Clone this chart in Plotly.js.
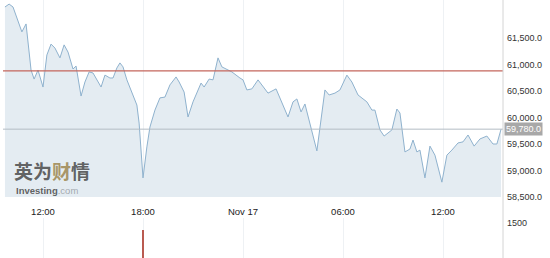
<!DOCTYPE html>
<html>
<head>
<meta charset="utf-8">
<script src="https://cdn.plot.ly/plotly-3.0.1.min.js"></script>
<style>
  html, body { margin: 0; padding: 0; background: #fff; }
  #chart { width: 550px; height: 258px; }
</style>
</head>
<body>
<div id="chart"></div>
<script>
// Intraday price, Nov 16 – Nov 17 2021
const times = [
  "2021-11-16 09:43","2021-11-16 09:58","2021-11-16 10:12","2021-11-16 10:30","2021-11-16 10:44",
  "2021-11-16 10:59","2021-11-16 11:17","2021-11-16 11:28","2021-11-16 11:42","2021-11-16 12:00",
  "2021-11-16 12:14","2021-11-16 12:29","2021-11-16 12:43","2021-11-16 13:01","2021-11-16 13:16",
  "2021-11-16 13:30","2021-11-16 13:48","2021-11-16 13:59","2021-11-16 14:17","2021-11-16 14:31",
  "2021-11-16 14:46","2021-11-16 15:00","2021-11-16 15:14","2021-11-16 15:29","2021-11-16 15:43",
  "2021-11-16 16:01","2021-11-16 16:12","2021-11-16 16:26","2021-11-16 16:37","2021-11-16 16:48",
  "2021-11-16 17:02","2021-11-16 17:20","2021-11-16 17:38","2021-11-16 17:46","2021-11-16 18:00",
  "2021-11-16 18:14","2021-11-16 18:25","2021-11-16 18:43","2021-11-16 19:01","2021-11-16 19:19",
  "2021-11-16 19:37","2021-11-16 19:59","2021-11-16 20:10","2021-11-16 20:28","2021-11-16 20:42",
  "2021-11-16 21:00","2021-11-16 21:29","2021-11-16 21:40","2021-11-16 21:58","2021-11-16 22:12",
  "2021-11-16 22:30","2021-11-16 22:44","2021-11-16 23:20","2021-11-16 23:49","2021-11-17 00:00",
  "2021-11-17 00:14","2021-11-17 00:32","2021-11-17 00:54","2021-11-17 01:30","2021-11-17 01:59",
  "2021-11-17 02:42","2021-11-17 03:00","2021-11-17 03:14","2021-11-17 03:29","2021-11-17 03:43",
  "2021-11-17 04:26","2021-11-17 04:55","2021-11-17 05:10","2021-11-17 05:31","2021-11-17 05:49",
  "2021-11-17 06:14","2021-11-17 06:32","2021-11-17 06:54","2021-11-17 07:26","2021-11-17 07:44",
  "2021-11-17 07:55","2021-11-17 08:13","2021-11-17 08:28","2021-11-17 08:56","2021-11-17 09:14",
  "2021-11-17 09:25","2021-11-17 09:43","2021-11-17 10:01","2021-11-17 10:12","2021-11-17 10:26",
  "2021-11-17 10:37","2021-11-17 10:55","2021-11-17 11:13","2021-11-17 11:31","2021-11-17 11:56",
  "2021-11-17 12:14","2021-11-17 12:32","2021-11-17 12:54","2021-11-17 13:12","2021-11-17 13:30",
  "2021-11-17 13:52","2021-11-17 14:13","2021-11-17 14:38","2021-11-17 15:00","2021-11-17 15:14",
  "2021-11-17 15:29"
];
const prices = [
  62085, 62140, 62085, 61840, 61615,
  61765, 60895, 60725, 60895, 60575,
  61180, 61385, 61310, 61125, 61370,
  61235, 60915, 60970, 60405, 60670,
  60860, 60840, 60710, 60575, 60800,
  60745, 60745, 60935, 61030, 60955,
  60710, 60480, 60235, 59895, 58860,
  59445, 59820, 60140, 60370, 60385,
  60615, 60765, 60670, 60480, 60010,
  60295, 60650, 60575, 60725, 60710,
  61125, 60955, 60860, 60745, 60710,
  60520, 60540, 60710, 60460, 60540,
  60010, 60295, 60350, 60105, 60255,
  59370, 60520, 60425, 60460, 60520,
  60800, 60670, 60425, 60295, 60140,
  60140, 59765, 59650, 59765, 60160,
  60085, 59350, 59405, 59575, 59350,
  59385, 58860, 59460, 59290, 58780,
  59290, 59385, 59520, 59540, 59670,
  59460, 59595, 59650, 59500, 59500,
  59780
];

// Volume panel
const volTimes = ["2021-11-16 18:00"];
const volumes = [1190];

// Reference levels
const prevClose = 60880;
const lastPrice = 59780;

// Axis ticks
const xRange = ["2021-11-16 09:36", "2021-11-17 15:36"];
const xTickVals = ["2021-11-16 12:00", "2021-11-16 18:00", "2021-11-17 00:00", "2021-11-17 06:00", "2021-11-17 12:00"];
const xTickText = ["12:00", "18:00", "Nov 17", "06:00", "12:00"];
const yTickVals = [58500, 59000, 59500, 60000, 60500, 61000, 61500];
const volTickVals = [1500];
const volTickText = ["1500"];

const FONT = "'Liberation Sans', Arial, sans-serif";

const traces = [
  {
    type: "scatter", mode: "lines",
    x: times, y: prices,
    line: { color: "#8fb2ce", width: 1 },
    fill: "tozeroy", fillcolor: "#e4ecf2",
    xaxis: "x", yaxis: "y",
    hoverinfo: "skip"
  },
  {
    type: "bar",
    x: volTimes, y: volumes,
    width: 420000,
    marker: { color: "#b8564c" },
    xaxis: "x2", yaxis: "y2",
    hoverinfo: "skip"
  }
];

const layout = {
  width: 550, height: 258,
  margin: { l: 3, r: 47, t: 0, b: 0, pad: 0 },
  paper_bgcolor: "#ffffff", plot_bgcolor: "rgba(0,0,0,0)",
  showlegend: false,
  font: { family: FONT, color: "#333", size: 9 },
  xaxis: {
    type: "date", range: xRange, domain: [0, 1],
    anchor: "y",
    tickmode: "array", tickvals: xTickVals, ticktext: xTickText,
    tickfont: { size: 9.5, color: "#222" },
    ticks: "", showline: false, zeroline: false,
    showgrid: true, gridcolor: "#eef1f4", gridwidth: 1,
    ticklabelstandoff: 7
  },
  yaxis: {
    domain: [1 - 197 / 258, 1],
    range: [58500, 58500 + 197 / 53 * 1000],
    side: "right", anchor: "x",
    tickmode: "array", tickvals: yTickVals, tickformat: ",.1f",
    tickfont: { size: 9, color: "#333" },
    ticks: "", showgrid: false, zeroline: false, showline: false,
    ticklabelstandoff: 3
  },
  xaxis2: {
    type: "date", matches: "x", anchor: "y2",
    tickmode: "array", tickvals: xTickVals,
    showticklabels: false, ticks: "",
    showgrid: true, gridcolor: "#eef1f4", zeroline: false, showline: false
  },
  yaxis2: {
    domain: [0, 40 / 258],
    range: [0, 1700],
    side: "right", anchor: "x2",
    tickmode: "array", tickvals: volTickVals, ticktext: volTickText,
    tickfont: { size: 9, color: "#333" },
    ticks: "", showgrid: false, zeroline: false, showline: false,
    ticklabelstandoff: 3
  },
  shapes: [
    { type: "line", xref: "paper", yref: "y", x0: 0, x1: 1, y0: lastPrice, y1: lastPrice,
      line: { color: "#b4bcc4", width: 1 } },
    { type: "line", xref: "paper", yref: "y", x0: 0, x1: 1, y0: prevClose, y1: prevClose,
      line: { color: "#c4665c", width: 1.4 } },
    { type: "line", xref: "paper", yref: "paper", x0: 1, x1: 1, y0: 0, y1: 1,
      line: { color: "#d4d4d4", width: 1 } }
  ],
  annotations: [
    { xref: "paper", yref: "y", x: 1, y: lastPrice, xanchor: "left", yanchor: "middle",
      xshift: 1, showarrow: false, text: "59,780.0",
      font: { size: 9, color: "#ffffff", family: FONT },
      bgcolor: "#a8a8a8", borderpad: 1 },
    // watermark: brand name above the site name, stacked without overlap
    { xref: "paper", yref: "paper", x: 0.02, y: 1 - 185 / 258, xanchor: "left", yanchor: "bottom",
      showarrow: false, borderpad: 0,
      text: "<b>英为<span style='color:#a08a55'>财</span>情</b>",
      font: { size: 19, color: "rgba(80,80,80,0.9)", family: "'Noto Sans CJK SC', sans-serif" } },
    { xref: "paper", yref: "paper", x: 0.024, y: 1 - 184 / 258, xanchor: "left", yanchor: "top",
      showarrow: false, borderpad: 0,
      text: "<b>Investing</b><span style='color:#9aa0a6'>.com</span>",
      font: { size: 9.5, color: "rgba(80,80,80,0.9)", family: FONT } }
  ]
};

Plotly.newPlot("chart", traces, layout, { staticPlot: true, displayModeBar: false });
</script>
</body>
</html>
